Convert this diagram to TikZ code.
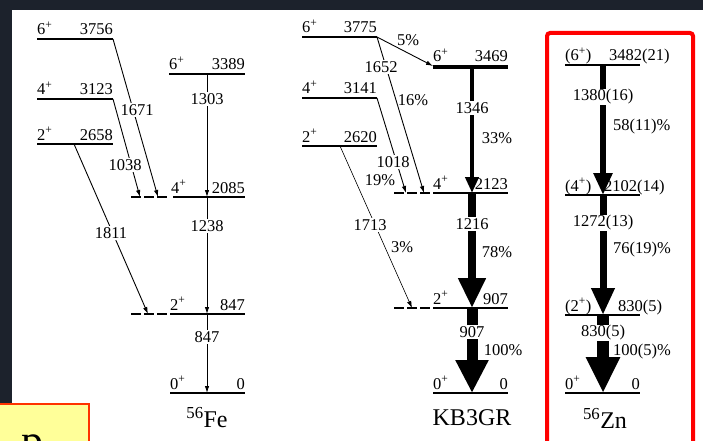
\documentclass[tikz,border=0pt]{standalone}
\usepackage{fontspec}
\setmainfont{Liberation Serif}
\usetikzlibrary{arrows.meta}
\definecolor{darkbg}{RGB}{28,34,44}
\definecolor{boxyel}{RGB}{255,255,153}
\definecolor{boxred}{RGB}{255,51,0}
\newcommand{\Jpl}[1]{#1\textsuperscript{+}}
\tikzset{
  lvl/.style={line width=2.5pt},
  dlvl/.style={line width=2.5pt, dash pattern=on 10pt off 3pt},
  txt/.style={font=\fontsize{16.5}{16.5}\selectfont, inner sep=0pt},
  jl/.style={txt, anchor=base west},
  el/.style={txt, anchor=base east},
  tl/.style={txt, fill=white, inner sep=1pt},
  tr/.style={line width=0.9pt, -{Latex[length=7pt,width=4.5pt]}},
  big/.style={font=\fontsize{24}{24}\selectfont, inner sep=0pt},
}
\begin{document}
\begin{tikzpicture}[x=1pt,y=-1pt]
\useasboundingbox (0,0) rectangle (703,441);
\fill[darkbg] (0,0) rectangle (703,441);
\fill[white] (12,10) rectangle (703,441);
% yellow box bottom-left
\draw[draw=boxred, fill=boxyel, line width=2pt] (-3,404) rectangle (89,446);
\node[font=\fontsize{44}{44}\selectfont, inner sep=0pt, anchor=base] (pletter) at (32,455) {p};

% ===== 56Fe =====
\draw[lvl] (37,39) coordinate (a6l) -- (113,39) coordinate (a6r);
\node[jl] (a6j) at (37,35) {\Jpl{6}}; \node[el] (a6e) at (113,35) {3756};
\draw[lvl] (37,99) coordinate (a4l) -- (113,99) coordinate (a4r);
\node[jl] (a4j) at (37,95) {\Jpl{4}}; \node[el] (a4e) at (113,95) {3123};
\draw[lvl] (37,144) coordinate (a2l) -- (113,144) coordinate (a2r);
\node[jl] (a2j) at (37,140) {\Jpl{2}}; \node[el] (a2e) at (113,140) {2658};
\coordinate (a2s) at (74,144);

\draw[lvl] (169,74) -- (245,74);
\node[jl] (f6j) at (169,70) {\Jpl{6}}; \node[el] (f6e) at (245,70) {3389};
\draw[dlvl] (131,197) -- (168,197);
\draw[lvl] (173,197) -- (245,197);
\node[jl] (f4j) at (171,193) {\Jpl{4}}; \node[el] (f4e) at (245,193) {2085};
\draw[dlvl] (131,314) -- (168,314);
\draw[lvl] (170,314) -- (245,314);
\node[jl] (f2j) at (170,310) {\Jpl{2}}; \node[el] (f2e) at (245,310) {847};
\draw[lvl] (170,393) -- (245,393);
\node[jl] (f0j) at (170,389) {\Jpl{0}}; \node[el] (f0e) at (245,389) {0};

\coordinate (f6c) at (207,74);
\coordinate (f4c) at (207,197);
\coordinate (f2c) at (207,314);
\coordinate (f0c) at (207,393);
\coordinate (f4d1) at (140,197);
\coordinate (f4d2) at (158,197);
\coordinate (f2d) at (148,314);

\draw[tr, line width=0.8pt] (f6c) -- (f4c);
\draw[tr] (f4c) -- (f2c);
\draw[tr] (f2c) -- (f0c);
\draw[tr] (a6r) -- (f4d2);
\draw[tr] (a4r) -- (f4d1);
\draw[tr] (a2s) -- (f2d);
\node[tl] (t1303) at (207,99) {1303};
\node[tl] (t1238) at (207,226) {1238};
\node[tl] (t847) at (207,337) {847};
\node[tl] (t1671) at (137,110) {1671};
\node[tl] (t1038) at (125,165) {1038};
\node[tl] (t1811) at (111,233) {1811};
\node[big] (fe) at (207,418) {\textsuperscript{56}Fe};

% ===== KB3GR =====
\draw[lvl] (302,37) -- (377,37) coordinate (k6ar);
\node[jl] (k6aj) at (302,33) {\Jpl{6}}; \node[el] (k6ae) at (377,33) {3775};
\draw[lvl] (302,98) -- (377,98) coordinate (k4ar);
\node[jl] (k4aj) at (302,94) {\Jpl{4}}; \node[el] (k4ae) at (377,94) {3141};
\draw[lvl] (302,146) -- (377,146);
\node[jl] (k2aj) at (302,142) {\Jpl{2}}; \node[el] (k2ae) at (377,142) {2620};
\coordinate (k2as) at (340,146);

\draw[lvl, line width=3.5pt] (433,67) -- (508,67);
\node[jl] (k6j) at (433,62) {\Jpl{6}}; \node[el] (k6e) at (508,62) {3469};
\draw[dlvl] (394,193) -- (430,193);
\draw[lvl] (433,193) -- (508,193);
\node[jl] (k4j) at (433,189) {\Jpl{4}}; \node[el] (k4e) at (508,189) {2123};
\draw[dlvl] (394,308) -- (430,308);
\draw[lvl] (433,308) -- (508,308);
\node[jl] (k2j) at (433,304) {\Jpl{2}}; \node[el] (k2e) at (508,304) {907};
\draw[lvl] (433,393) -- (508,393);
\node[jl] (k0j) at (433,389) {\Jpl{0}}; \node[el] (k0e) at (508,389) {0};

\coordinate (k6l) at (433,66);
\coordinate (k6c) at (472,67);
\coordinate (k4c) at (472,193);
\coordinate (k2c) at (472,308);
\coordinate (k0c) at (472,393);
\coordinate (k4d1) at (406,193);
\coordinate (k4d2) at (424,193);
\coordinate (k2d) at (412,308);

\draw[tr] (k6ar) -- (k6l);
\draw[tr] (k6ar) -- (k4d2);
\draw[tr] (k4ar) -- (k4d1);
\draw[tr, line width=0.6pt] (k2as) -- (k2d);
\draw[line width=4.5pt, -{Triangle[width=13pt,length=16pt]}] (k6c) -- (k4c);
\draw[line width=8pt, -{Triangle[width=26pt,length=30pt]}] (k4c) -- (k2c);
\draw[line width=11pt, -{Triangle[width=31pt,length=33pt]}] (k2c) -- (k0c);
\node[txt] (p5) at (408,40) {5\%};
\node[tl] (t1652) at (381,67) {1652};
\node[txt] (p16) at (413,100) {16\%};
\node[tl] (t1018) at (393,162) {1018};
\node[txt] (p19) at (380,180) {19\%};
\node[tl] (t1713) at (370,225) {1713};
\node[txt] (p3) at (402,247) {3\%};
\node[tl] (t1346) at (472,108) {1346};
\node[txt] (p33) at (497,138) {33\%};
\node[tl] (t1216) at (472,224) {1216};
\node[txt] (p78) at (497,252) {78\%};
\node[tl] (t907) at (472,332) {907};
\node[txt] (p100) at (503,350) {100\%};
\node[big] (kb) at (472,418) {KB3GR};

% ===== 56Zn =====
\draw[draw=red, line width=4pt, rounded corners=3pt] (547,33) rectangle (693,448);
\draw[lvl] (565,65) -- (640,65);
\node[jl] (z6j) at (565,61) {(\Jpl{6})}; \node[jl] (z6e) at (609,61) {3482(21)};
\draw[lvl] (565,195) -- (640,195);
\node[jl] (z4j) at (565,191) {(\Jpl{4})}; \node[jl] (z4e) at (604,191) {2102(14)};
\draw[lvl] (565,315) -- (640,315);
\node[jl] (z2j) at (565,311) {(\Jpl{2})}; \node[jl] (z2e) at (618,311) {830(5)};
\draw[lvl] (565,393) -- (640,393);
\node[jl] (z0j) at (565,389) {\Jpl{0}}; \node[el] (z0e) at (640,389) {0};

\coordinate (z6c) at (603,65);
\coordinate (z4c) at (603,195);
\coordinate (z2c) at (603,315);
\coordinate (z0c) at (603,393);
\draw[line width=6pt, -{Triangle[width=18pt,length=22pt]}] (z6c) -- (z4c);
\draw[line width=7pt, -{Triangle[width=22pt,length=27pt]}] (z4c) -- (z2c);
\draw[line width=12pt, -{Triangle[width=32pt,length=36pt]}] (z2c) -- (z0c);
\node[tl] (t1380) at (603,97) {1380(16)};
\node[txt, anchor=west] (p58) at (613,127) {58(11)\%};
\node[tl] (t1272) at (603,223) {1272(13)};
\node[txt, anchor=west] (p76) at (613,250) {76(19)\%};
\node[tl] (t830) at (603,333) {830(5)};
\node[txt, anchor=west] (p1005) at (613,352) {100(5)\%};
\node[big] (zn) at (605,418) {\textsuperscript{56}Zn};
\end{tikzpicture}
\end{document}
